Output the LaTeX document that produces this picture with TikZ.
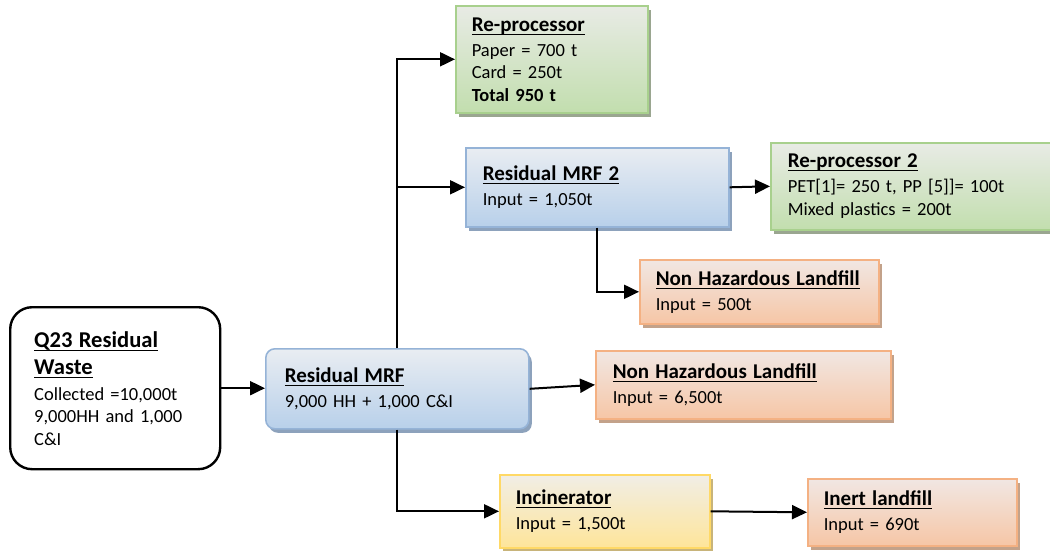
\documentclass[tikz,border=0pt]{standalone}
\usepackage{fontspec}
\setmainfont{Carlito}
\usepackage{amsmath}
\usetikzlibrary{arrows.meta,shadows,positioning}

\definecolor{blueline}{HTML}{95B3D7}
\definecolor{bluetop}{HTML}{E9EDF2}
\definecolor{bluebot}{HTML}{B8D0EA}
\definecolor{blueshad}{HTML}{8DA2BC}
\definecolor{greenline}{HTML}{A8D08D}
\definecolor{greentop}{HTML}{E8EBE5}
\definecolor{greenbot}{HTML}{C2DEAE}
\definecolor{greenshad}{HTML}{9AA690}
\definecolor{orangeline}{HTML}{F4B183}
\definecolor{orangetop}{HTML}{F1E7E3}
\definecolor{orangebot}{HTML}{F6C6A6}
\definecolor{orangeshad}{HTML}{C3A28A}
\definecolor{yellowline}{HTML}{FFD966}
\definecolor{yellowtop}{HTML}{F1EEE6}
\definecolor{yellowbot}{HTML}{FEE59A}
\definecolor{yellowshad}{HTML}{C8B47A}

\newcommand{\bodyfont}{\fontsize{18.5}{22.5}\selectfont}
\newcommand{\ttl}[1]{{\fontsize{21}{25}\selectfont\bfseries\underline{\smash[b]{#1}}}}
\newcommand{\ttlq}[1]{{\fontsize{22.6}{27}\selectfont\bfseries\underline{\smash[b]{#1}}}}

\begin{document}
\begin{tikzpicture}[x=1pt, y=-1pt,
      flow/.style={draw=black, line width=2pt, -{Triangle[length=15pt, width=14pt]}},
      box/.style={anchor=north west, inner xsep=17pt, inner ysep=0pt, align=left,
          line width=1.6pt, font=\bodyfont},
      shad/.style={drop shadow={shadow xshift=3pt, shadow yshift=-4pt, opacity=1, fill=#1}},
      bluebox/.style={box, draw=blueline, top color=bluetop, bottom color=bluebot, shad=blueshad},
      greenbox/.style={box, draw=greenline, top color=greentop, bottom color=greenbot, shad=greenshad},
      orangebox/.style={box, draw=orangeline, top color=orangetop, bottom color=orangebot, shad=orangeshad},
      yellowbox/.style={box, draw=yellowline, top color=yellowtop, bottom color=yellowbot, shad=yellowshad}]

      \useasboundingbox (0,0) rectangle (1050,550);

      % source
      \node[box, draw=black, line width=2.4pt, fill=white, rounded corners=22pt,
          inner xsep=24pt, text width=162pt, minimum height=162pt] (q23) at (9,306)
          {\ttlq{Q23 Residual}\\[4.5pt] \ttlq{Waste}\\[3.5pt] Collected =10,000t\\ 9,000HH and 1,000\\ C\&I};

      % treatment
      \node[bluebox, rounded corners=9pt, inner xsep=19pt, text width=225pt, minimum height=80pt] (mrf) at (265,348)
          {\ttl{Residual MRF}\\[2.5pt] 9,000 HH + 1,000 C\&I};
      \node[bluebox, text width=229pt, minimum height=79pt] (mrf2) at (465,147)
          {\ttl{Residual MRF 2}\\[2.5pt] Input = 1,050t};
      \node[yellowbox, inner xsep=16pt, text width=178pt, minimum height=73pt] (inc) at (499,474)
          {\ttl{Incinerator}\\[2.5pt] Input = 1,500t};

      % outlets
      \node[greenbox, inner xsep=16pt, text width=160pt, minimum height=107pt] (rp) at (455,5)
          {\ttl{Re-processor}\\[2.5pt] Paper = 700 t\\ Card = 250t\\ \textbf{Total 950 t}};
      \node[greenbox, text width=256pt, minimum height=87pt] (rp2) at (770,142)
          {\ttl{Re-processor 2}\\[2.5pt] PET[1]= 250 t, PP [5]]= 100t\\ Mixed plastics = 200t};
      \node[orangebox, inner xsep=16pt, text width=207pt, minimum height=64pt] (nhl1) at (639,259)
          {\ttl{Non Hazardous Landfill}\\[2.5pt] Input = 500t};
      \node[orangebox, text width=261pt, minimum height=68pt] (nhl2) at (595,350)
          {\ttl{Non Hazardous Landfill}\\[2.5pt] Input = 6,500t};
      \node[orangebox, inner xsep=16pt, text width=177pt, minimum height=67pt] (inert) at (807,478)
          {\ttl{Inert landfill}\\[2.5pt] Input = 690t};

      \draw[flow] (q23.east) -- (q23.east -| mrf.west);
      \draw[flow] (mrf.north) |- (rp.west);
      \draw[flow] (mrf.north) |- (mrf2.west);
      \draw[flow] (mrf.south) |- (inc.west);
      \draw[flow] (mrf.east) -- (nhl2.west);
      \draw[flow] (mrf2.east) -- (rp2.west);
      \draw[flow] (mrf2.south) |- (nhl1.west);
      \draw[flow] (inc.east) -- (inert.west);
\end{tikzpicture}
\end{document}
